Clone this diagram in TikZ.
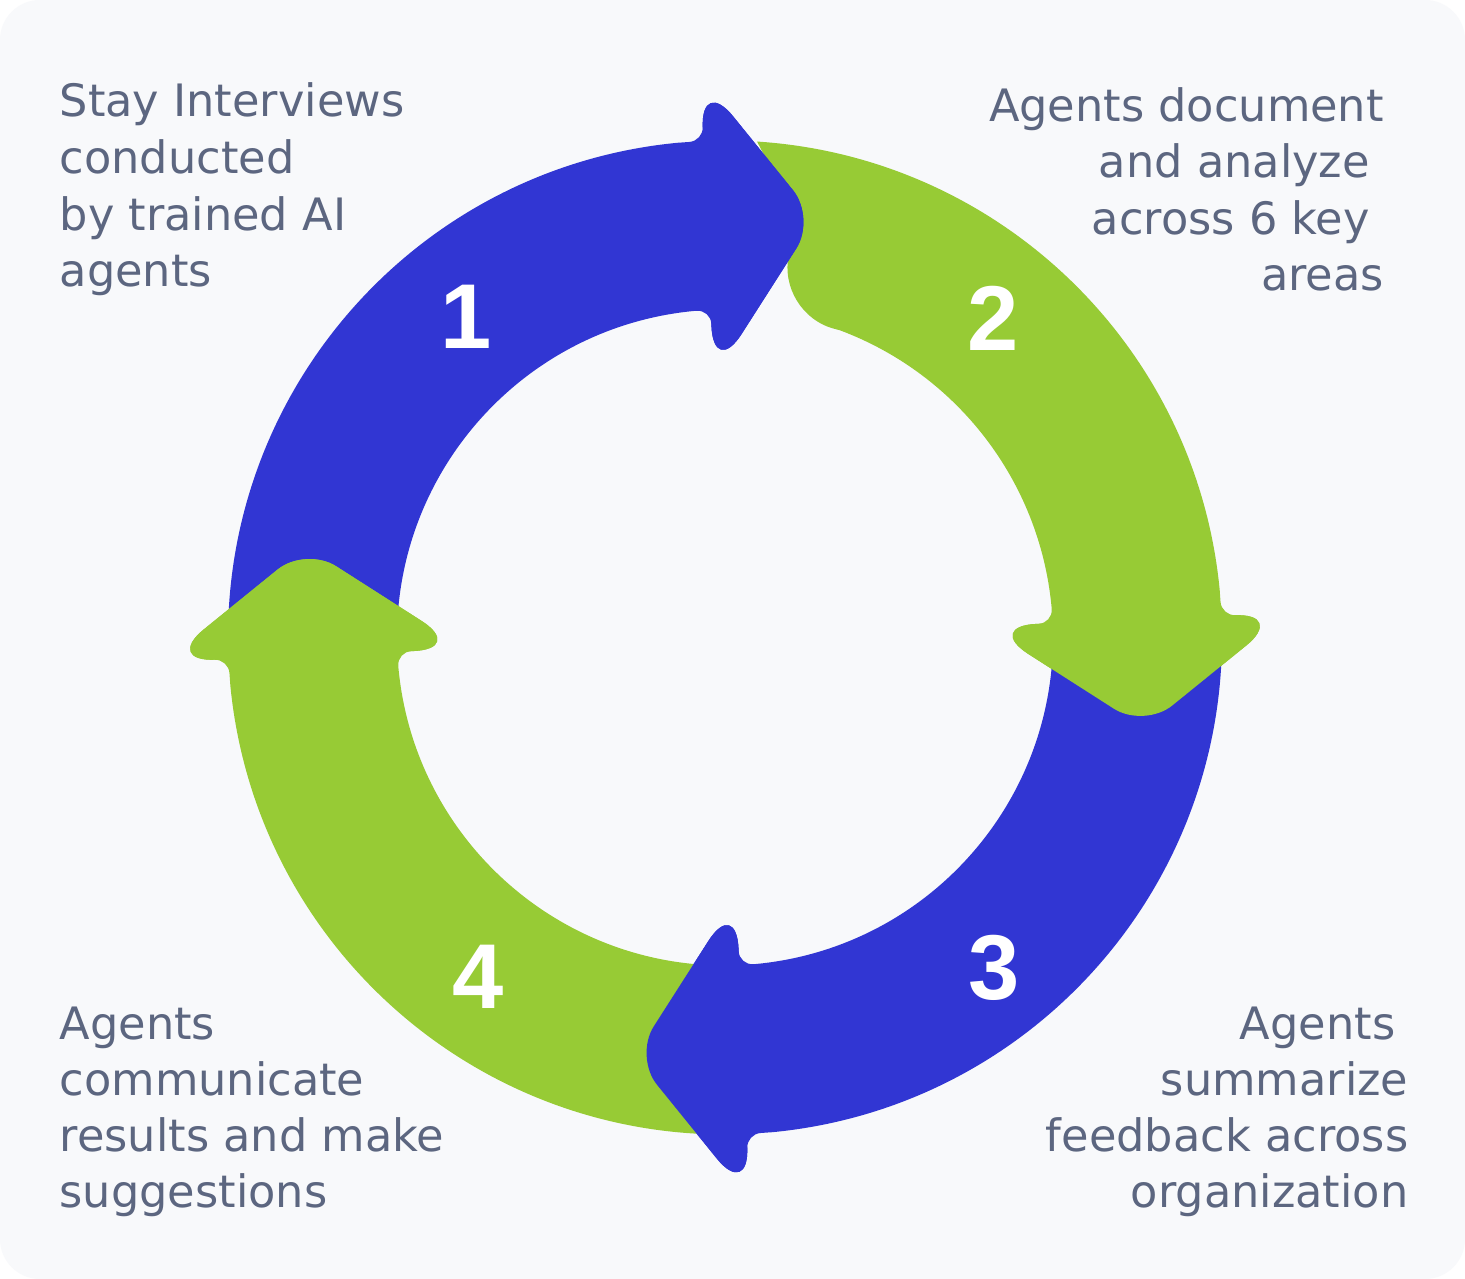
\documentclass[tikz,border=0pt]{standalone}
\usepackage{fontspec}
\setmainfont{DejaVu Sans}
\newfontfamily\numfont{Liberation Sans}
\usepackage{tikz}
\usepackage{xcolor}

\definecolor{ringblue}{HTML}{3136D3}
\definecolor{ringgreen}{HTML}{97CB35}
\definecolor{txtgray}{HTML}{5C6680}
\definecolor{panel}{HTML}{F8F9FB}

\begin{document}
\begin{tikzpicture}[every node/.style={inner sep=0pt},
  lbl/.style={font=\fontsize{12.7}{15.5}\selectfont, text=txtgray},
  num/.style={font=\numfont\fontsize{26.2}{26.2}\selectfont\bfseries, text=white}]
  \def\Ro{4.97} \def\Ri{3.28} \def\Rb{5.62} \def\Rc{2.60} \def\Rt{4.29}

  % PANEL
  \useasboundingbox (0,0) rectangle (14.65,12.79);
  \fill[white] (0,0) rectangle (14.65,12.79);
  \fill[panel, rounded corners=0.4cm] (0,0) rectangle (14.65,12.79);

  \begin{scope}[shift={(7.25,6.415)}]
    % GREEN 2 WITH NOTCHED TAIL
    \fill[ringgreen] (86.3:\Ro) arc[start angle=86.3, end angle=5.5, radius=\Ro]
      [rounded corners=1.4mm] -- (2.5:\Ro)
      [rounded corners=5.2mm] -- (2.5:\Rb)
      [rounded corners=3.6mm] -- (-12.2:\Rt)
      [rounded corners=5.2mm] -- (2.5:\Rc)
      [rounded corners=1.4mm] -- (2.5:\Ri)
      [sharp corners] -- (5.5:\Ri)
      arc[start angle=5.5, end angle=69.5, radius=\Ri]
      [rounded corners=6mm] -- (81:\Ri)
      [sharp corners] -- (80.3:4.26) -- cycle;

    % BANDS 1, 3, 4 (tail starts under the previous head)
    \foreach \b/\c in {92.5/ringblue, -87.5/ringblue, -177.5/ringgreen} {
      \fill[\c] (\b+88.5:\Ro) arc[start angle=\b+88.5, end angle=\b+3, radius=\Ro]
        [rounded corners=1.4mm] -- (\b:\Ro)
        [rounded corners=5.2mm] -- (\b:\Rb)
        [rounded corners=3.6mm] -- (\b-14.7:\Rt)
        [rounded corners=5.2mm] -- (\b:\Rc)
        [rounded corners=1.4mm] -- (\b:\Ri)
        [sharp corners] -- (\b+3:\Ri)
        arc[start angle=\b+3, end angle=\b+88.5, radius=\Ri] -- cycle;
    }

    % HEADS ON TOP OF THE NEXT TAIL
    \foreach \b/\c in {92.5/ringblue, 2.5/ringgreen, -87.5/ringblue, -177.5/ringgreen} {
      \fill[\c] (\b:4.1)
        [rounded corners=5.2mm] -- (\b:\Rb)
        [rounded corners=3.6mm] -- (\b-14.7:\Rt)
        [rounded corners=5.2mm] -- (\b:\Rc)
        [sharp corners] -- (\b:4.1) -- cycle;
    }
  \end{scope}

  % STEP NUMBERS
  \node[num] (n1) at (4.66, 9.62) {1};
  \node[num] (n2) at (9.93, 9.61) {2};
  \node[num] (n3) at (9.94, 3.11) {3};
  \node[num] (n4) at (4.78, 3.02) {4};

  % STEP TEXTS
  \foreach \t [count=\i from 0] in {Stay Interviews, conducted, by trained AI, agents}
    \node[lbl, anchor=base west] (tl\i) at (0.59, 11.623-\i*0.567) {\t};
  \foreach \t [count=\i from 0] in {Agents document, {and analyze\kern0.14cm}, {across 6 key\kern0.14cm}, areas}
    \node[lbl, anchor=base east] (tr\i) at (13.845, 11.573-\i*0.562) {\t};
  \foreach \t [count=\i from 0] in {Agents, communicate, results and make, suggestions}
    \node[lbl, anchor=base west] (bl\i) at (0.59, 2.39-\i*0.56) {\t};
  \foreach \t [count=\i from 0] in {{Agents\kern0.13cm}, summarize, feedback across, organization}
    \node[lbl, anchor=base east] (br\i) at (14.09, 2.39-\i*0.56) {\t};
\end{tikzpicture}
\end{document}
